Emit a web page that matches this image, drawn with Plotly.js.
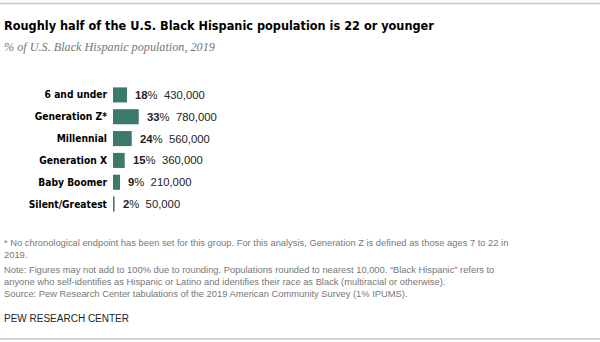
<!DOCTYPE html>
<html>
<head>
<meta charset="utf-8">
<script src="https://cdn.plot.ly/plotly-3.0.1.min.js"></script>
<style>html,body{margin:0;padding:0;background:#fff;}#chart{width:600px;height:342px;}</style>
</head>
<body>
<div id="chart"></div>
<script>
const categories = ["6 and under", "Generation Z*", "Millennial", "Generation X", "Baby Boomer", "Silent/Greatest"];
const shares = [18, 33, 24, 15, 9, 2];
const populations = ["430,000", "780,000", "560,000", "360,000", "210,000", "50,000"];

const titleText = "Roughly half of the U.S. Black Hispanic population is 22 or younger";
const subtitleText = "% of U.S. Black Hispanic population, 2019";
const footLines = [
  "* No chronological endpoint has been set for this group. For this analysis, Generation Z is defined as those ages 7 to 22 in",
  "2019.",
  "Note: Figures may not add to 100% due to rounding. Populations rounded to nearest 10,000. \u201cBlack Hispanic\u201d refers to",
  "anyone who self-identifies as Hispanic or Latino and identifies their race as Black (multiracial or otherwise).",
  "Source: Pew Research Center tabulations of the 2019 American Community Survey (1% IPUMS)."
];
const footY = [242.5, 255, 270, 281.8, 293.5];
const brand = "PEW RESEARCH CENTER";

const W = 600, H = 342;
const L = 113, R = 7, T = 84, B = 127;
const pw = W - L - R, ph = H - T - B;
const pxPerPct = 0.78;
const px2x = p => (p - L) / pw;
const py2y = p => (H - B - p) / ph;

const sans = "'DejaVu Sans Condensed', 'Liberation Sans', Arial, sans-serif";
const sansReg = "'Liberation Sans', Arial, sans-serif";

const annotations = [];
annotations.push({xref:'paper', yref:'paper', x:px2x(2), y:py2y(25), xanchor:'left', yanchor:'middle',
  text:'<b>'+titleText+'</b>', showarrow:false, font:{family:sans, size:12.6, color:'#000'}});
annotations.push({xref:'paper', yref:'paper', x:px2x(2), y:py2y(47), xanchor:'left', yanchor:'middle',
  text:'<i>'+subtitleText+'</i>', showarrow:false, font:{family:"'Liberation Serif', Georgia, serif", size:12.2, color:'#777'}});
footLines.forEach((t,i)=>{
  annotations.push({xref:'paper', yref:'paper', x:px2x(2), y:py2y(footY[i]), xanchor:'left', yanchor:'middle',
    text:t, showarrow:false, font:{family:sansReg, size:9.35, color:'#777'}});
});
annotations.push({xref:'paper', yref:'paper', x:px2x(2), y:py2y(318.5), xanchor:'left', yanchor:'middle',
  text:brand, showarrow:false, font:{family:sansReg, size:10, color:'#222'}});
categories.forEach((c,i)=>{
  annotations.push({xref:'x', yref:'y', x:shares[i], y:c, xanchor:'left', yanchor:'middle', xshift:6,
    text:'<b>'+shares[i]+'</b>%  '+populations[i], showarrow:false, font:{family:sansReg, size:11.3, color:'#222'}});
});

const trace = {
  type:'bar', orientation:'h', x:shares, y:categories,
  marker:{color:'#3b7a6b'}, hoverinfo:'skip'
};

const layout = {
  width:W, height:H, margin:{l:L, r:R, t:T, b:B, pad:0},
  paper_bgcolor:'#fff', plot_bgcolor:'#fff',
  showlegend:false, bargap:0.31,
  xaxis:{range:[0, pw/pxPerPct], visible:false, fixedrange:true},
  yaxis:{type:'category', autorange:'reversed', showgrid:false, zeroline:false, showline:false,
    ticks:'', ticklabelstandoff:5, tickfont:{family:sans, size:10.2, color:'#000', weight:'bold'}},
  annotations:annotations,
  shapes:[
    {type:'line', xref:'paper', yref:'paper', x0:px2x(0), x1:px2x(600), y0:py2y(3.5), y1:py2y(3.5), line:{color:'#c8c8c8', width:1.5}},
    {type:'line', xref:'paper', yref:'paper', x0:px2x(0), x1:px2x(600), y0:py2y(339), y1:py2y(339), line:{color:'#c8c8c8', width:1.5}}
  ]
};

Plotly.newPlot('chart', [trace], layout, {displayModeBar:false, staticPlot:true});
</script>
</body>
</html>
